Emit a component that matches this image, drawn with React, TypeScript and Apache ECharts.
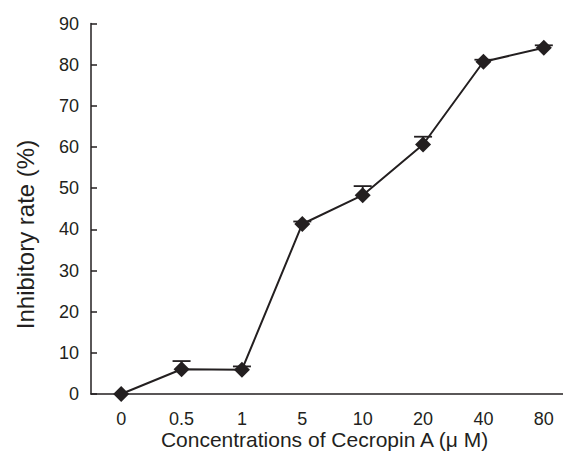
import React, { useEffect, useRef } from "react";
import * as echarts from "echarts";

const categories = ["0", "0.5", "1", "5", "10", "20", "40", "80"];
const rates = [0, 6.0, 5.9, 41.3, 48.3, 60.6, 80.7, 84.1];
const errors = [0, 2.0, 0.8, 0.6, 2.2, 1.9, 0.5, 0.6];
const yTicks = { min: 0, max: 90, interval: 10 };
const xTitle = "Concentrations of Cecropin A (μ M)";
const yTitle = "Inhibitory rate (%)";

const FONT = "'Liberation Sans', Arial, Helvetica, sans-serif";
const INK = "#231f20";

export default function App() {
  const ref = useRef<HTMLDivElement>(null);
  useEffect(() => {
    if (!ref.current) return;
    const chart = echarts.init(ref.current, undefined, { renderer: "svg" });
    chart.setOption({
      animation: false,
      backgroundColor: "#fff",
      grid: { left: 91, top: 23.5, right: -11, bottom: 62, outerBoundsMode: "none" },
      graphic: [
        {
          type: "text",
          x: 324.5,
          y: 439,
          style: {
            text: xTitle,
            fontFamily: FONT,
            fontSize: 21,
            fill: INK,
            align: "center",
            verticalAlign: "middle",
          },
        },
        {
          type: "text",
          x: 25,
          y: 234.5,
          rotation: Math.PI / 2,
          style: {
            text: yTitle,
            fontFamily: FONT,
            fontSize: 24,
            fill: INK,
            align: "center",
            verticalAlign: "middle",
          },
        },
      ],
      xAxis: {
        type: "category",
        data: categories,
        boundaryGap: true,
        axisLine: { lineStyle: { color: INK, width: 1.5 } },
        axisTick: { inside: true, length: 6, lineStyle: { color: INK, width: 1.5 } },
        axisLabel: { fontFamily: FONT, fontSize: 18, color: INK, margin: 16 },
        splitLine: { show: false },
      },
      yAxis: {
        type: "value",
        min: yTicks.min,
        max: yTicks.max,
        interval: yTicks.interval,
        axisLine: { show: true, lineStyle: { color: INK, width: 1.5 } },
        axisTick: { show: true, inside: true, length: 6, lineStyle: { color: INK, width: 1.5 } },
        axisLabel: { fontFamily: FONT, fontSize: 18, color: INK, margin: 12 },
        splitLine: { show: false },
      },
      series: [
        {
          type: "custom",
          z: 1,
          data: rates.map((v, i) => [i, v, errors[i]]),
          renderItem: (params: any, api: any) => {
            const i = api.value(0);
            const v = api.value(1);
            const e = api.value(2);
            if (!e) return { type: "group", children: [] };
            const p0 = api.coord([i, v]);
            const p1 = api.coord([i, v + e]);
            const half = 9;
            const style = { stroke: INK, lineWidth: 1.8 };
            return {
              type: "group",
              children: [
                { type: "line", shape: { x1: p0[0], y1: p0[1], x2: p1[0], y2: p1[1] }, style },
                { type: "line", shape: { x1: p1[0] - half, y1: p1[1], x2: p1[0] + half, y2: p1[1] }, style },
              ],
            };
          },
        },
        {
          type: "line",
          z: 2,
          data: rates,
          symbol: "diamond",
          symbolSize: 16,
          showSymbol: true,
          lineStyle: { color: INK, width: 2 },
          itemStyle: { color: INK },
        },
      ],
    });
    return () => chart.dispose();
  }, []);
  return (
    <div
      ref={ref}
      style={{ position: "absolute", left: 0, top: 0, width: 563, height: 456, background: "#fff" }}
    />
  );
}
